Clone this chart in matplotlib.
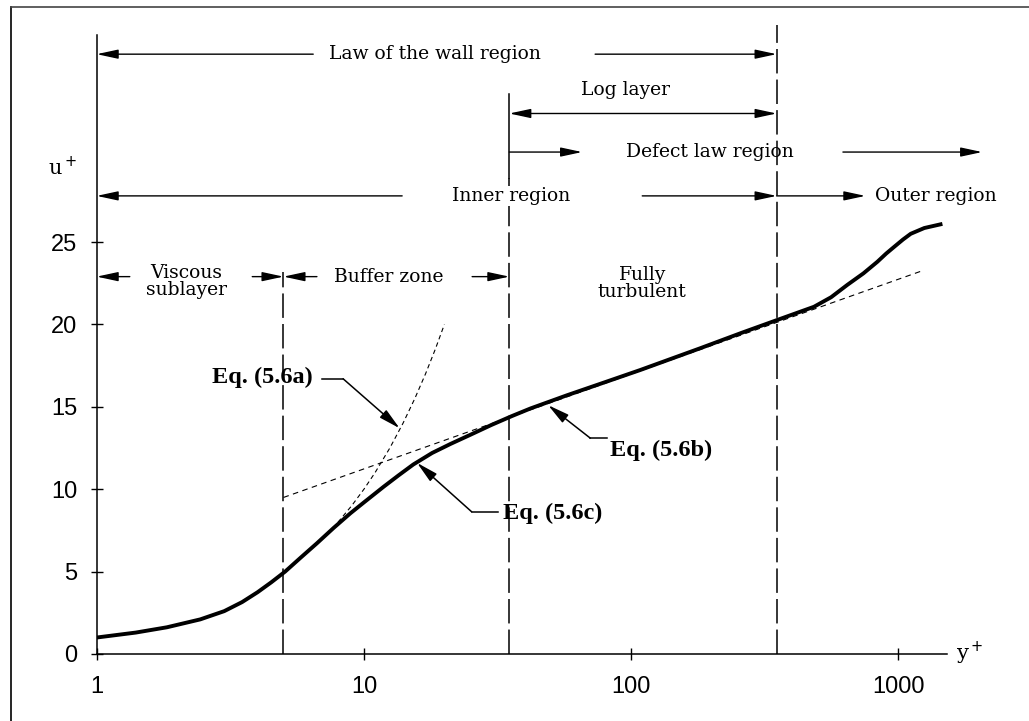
import matplotlib
matplotlib.use("Agg")
import matplotlib.pyplot as plt
from matplotlib.lines import Line2D

# Mean velocity profile of a turbulent boundary layer, u+ against y+
y_plus = [1.0, 1.4, 1.83, 2.44, 3.0, 3.5, 4.0, 4.5, 5.07, 5.8, 6.67, 7.7,
          8.9, 10.0, 11.85, 13.5, 15.3, 18.0, 21.1, 25.0, 30.0, 35.8, 42.0,
          57.5, 80.0, 108, 181, 260, 352, 483, 560, 644, 740, 834, 900, 963,
          1040, 1112, 1250, 1461]
u_plus = [1.0, 1.3, 1.62, 2.1, 2.6, 3.15, 3.75, 4.35, 5.0, 5.85, 6.72, 7.65,
          8.54, 9.2, 10.15, 10.85, 11.5, 12.2, 12.75, 13.3, 13.9, 14.44, 14.9,
          15.7, 16.5, 17.23, 18.55, 19.5, 20.27, 21.07, 21.65, 22.4, 23.1,
          23.8, 24.3, 24.7, 25.15, 25.5, 25.85, 26.1]

# Viscous sublayer law, u+ = y+  (Eq. 5.6a)
sub_y = [8.0, 9.0, 10.0, 11.0, 12.5, 14.0, 15.5, 17.0, 18.5, 20.0]
sub_u = [8.0, 9.0, 10.0, 11.0, 12.5, 14.0, 15.5, 17.0, 18.5, 20.0]

# Log law (Eq. 5.6b), a straight line on the semilog axes
log_y = [5.0, 1250.0]
log_u = [9.5, 23.3]

# Region boundaries in y+
bounds = [5.0, 35.0, 350.0]

x_ticks = [1, 10, 100, 1000]
x_tick_labels = ["1", "10", "100", "1000"]
y_ticks = [0, 5, 10, 15, 20, 25]

SERIF = ["DejaVu Serif"]
SANS = ["Liberation Sans", "DejaVu Sans"]

fig = plt.figure(figsize=(10.29, 7.21), dpi=100)
fig.patch.set_facecolor("white")
ax = fig.add_axes([96.7 / 1029, 1 - 654 / 721, (947 - 96.7) / 1029, (654 - 25) / 721])
ax.set_xscale("log")
ax.set_xlim(1, 1520)
ax.set_ylim(0, 38.17)

for s in ("top", "right"):
    ax.spines[s].set_visible(False)
ax.spines["left"].set_bounds(0, 37.56)
for s in ("left", "bottom"):
    ax.spines[s].set_linewidth(1.1)

ax.set_xticks(x_ticks)
ax.set_xticklabels(x_tick_labels)
ax.xaxis.set_minor_locator(matplotlib.ticker.NullLocator())
ax.set_yticks(y_ticks)
ax.tick_params(axis="both", direction="inout", length=8, width=1.0, labelsize=17)
ax.tick_params(axis="x", pad=12)
ax.tick_params(axis="y", pad=10)
for lab in ax.get_xticklabels() + ax.get_yticklabels():
    lab.set_fontfamily(SANS)

# boundary lines
ax.plot([bounds[0]] * 2, [0, 23.2], color="black", lw=1.1, dashes=(16, 4))
ax.plot([bounds[1]] * 2, [0, 28.9], color="black", lw=1.1, dashes=(16, 4))
ax.plot([bounds[1]] * 2, [28.9, 34.0], color="black", lw=1.1)
ax.plot([bounds[2]] * 2, [0, 38.17], color="black", lw=1.1, dashes=(16, 4), clip_on=False)

# reference laws and profile
ax.plot(sub_y, sub_u, color="black", lw=0.8, dashes=(4, 3))
ax.plot(log_y, log_u, color="black", lw=0.8, dashes=(5, 4))
ax.plot(y_plus, u_plus, color="black", lw=2.8, solid_capstyle="butt",
        solid_joinstyle="round")


def arrow(tail, tip, both=False):
    style = "<|-|>" if both else "-|>"
    ax.annotate("", xy=tip, xytext=tail, annotation_clip=False,
                arrowprops=dict(arrowstyle=style + ",head_length=1.3,head_width=0.28",
                                mutation_scale=10, lw=1.0, color="black",
                                shrinkA=0, shrinkB=0))


def label(x, y, s, ha="center", **kw):
    ax.text(x, y, s, ha=ha, va="center", fontsize=13.5, family=SERIF,
            clip_on=False, **kw)


# Law of the wall region
arrow((6.46, 36.4), (1.0, 36.4))
label(18.5, 36.4, "Law of the wall region")
arrow((73.3, 36.4), (350, 36.4))

# Log layer
label(95, 34.2, "Log layer")
arrow((35, 32.8), (350, 32.8), both=True)

# Defect law region
arrow((35, 30.46), (65.5, 30.46))
label(197, 30.46, "Defect law region")
arrow((620, 30.46), (2057, 30.46))

# Inner / outer region
arrow((13.9, 27.8), (1.0, 27.8))
label(35.5, 27.8, "Inner region", bbox=dict(fc="white", ec="none", pad=1))
arrow((110, 27.8), (350, 27.8))
arrow((350, 27.8), (752, 27.8))
label(819, 27.8, "Outer region", ha="left")

# Viscous sublayer / buffer zone
arrow((1.33, 22.9), (1.0, 22.9))
label(2.16, 22.6, "Viscous\nsublayer", linespacing=0.95)
arrow((3.82, 22.9), (5.0, 22.9))
arrow((6.67, 22.9), (5.0, 22.9))
label(12.4, 22.9, "Buffer zone")
arrow((25.4, 22.9), (35.0, 22.9))
label(110, 22.5, "Fully\nturbulent", linespacing=0.95)

# axis names
ax.text(0.748, 29.5, r"u$^+$", ha="center", va="center", fontsize=15,
        family=SERIF, clip_on=False)
ax.text(1854, 0.06, r"y$^+$", ha="center", va="center", fontsize=15,
        family=SERIF, clip_on=False)


# equation call-outs
def callout(text, text_xy, elbow, tip, ha="left"):
    ax.text(text_xy[0], text_xy[1], text, ha=ha, va="center", fontsize=17.5,
            family=["Liberation Serif", "DejaVu Serif"], weight="bold")
    ax.plot([elbow[0][0], elbow[1][0]], [elbow[0][1], elbow[1][1]],
            color="black", lw=1.1)
    ax.annotate("", xy=tip, xytext=elbow[1], annotation_clip=False,
                arrowprops=dict(arrowstyle="-|>,head_length=1.3,head_width=0.3",
                                mutation_scale=10, lw=1.1, color="black",
                                shrinkA=0, shrinkB=0))


callout("Eq. (5.6a)", (2.70, 16.8), ((6.97, 16.7), (8.36, 16.7)), (13.6, 13.7))
callout("Eq. (5.6b)", (83.5, 12.38), ((81.3, 13.1), (70.3, 13.1)), (48.9, 15.1))
callout("Eq. (5.6c)", (33.2, 8.56), ((31.8, 8.63), (25.3, 8.63)), (15.8, 11.6))

# page frame
fig.add_artist(Line2D([11 / 1029, 11 / 1029], [0, 1 - 7 / 721], color="black", lw=1.2))
fig.add_artist(Line2D([11 / 1029, 1], [1 - 7 / 721, 1 - 7 / 721], color="#444444", lw=1.2))

fig.savefig("out.png", dpi=100, facecolor="white")
